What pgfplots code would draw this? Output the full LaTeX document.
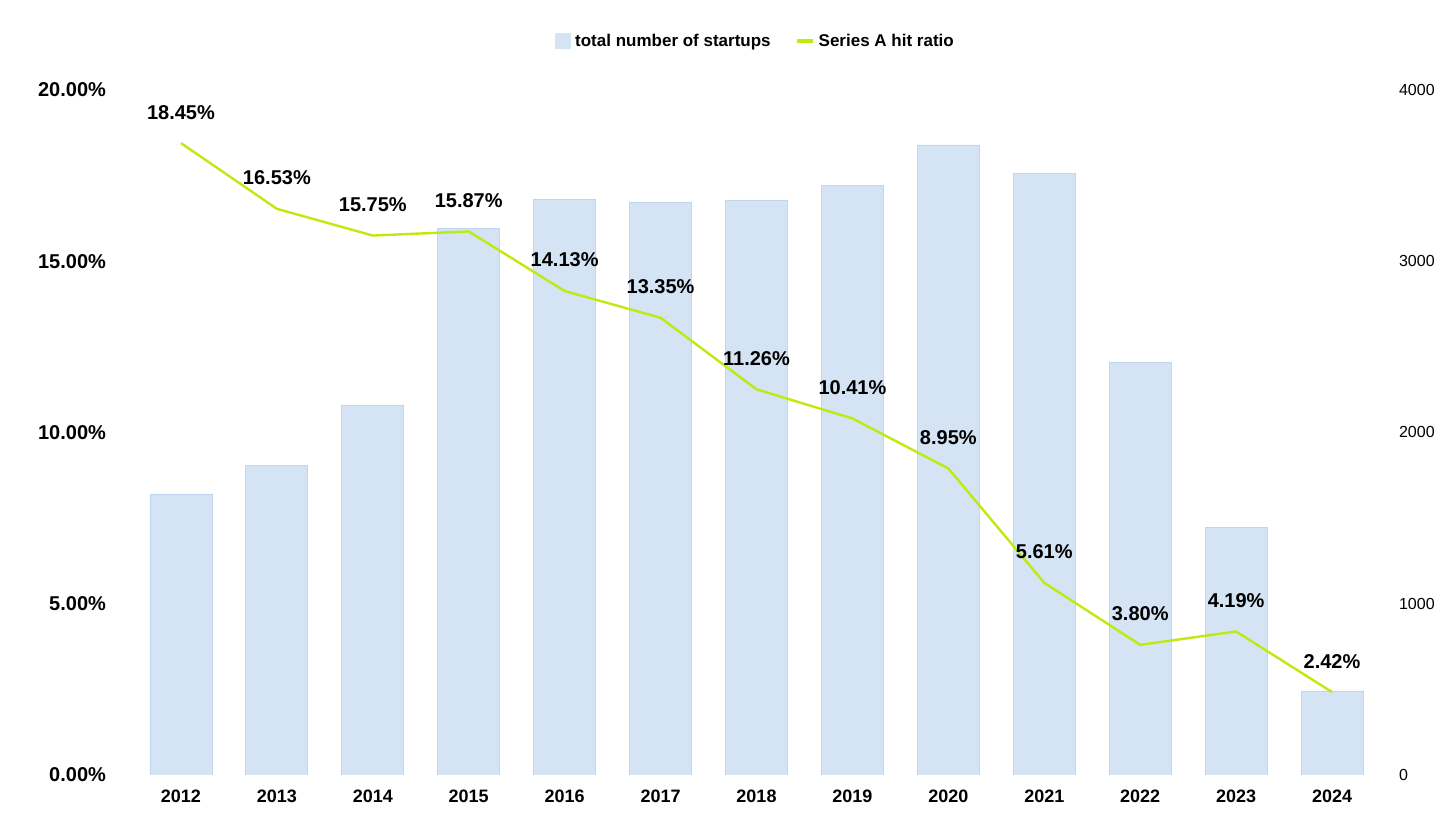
\documentclass[border=0pt]{standalone}
\usepackage{fontspec}
\setmainfont{Liberation Sans}
\usepackage{pgfplots}
\pgfplotsset{compat=1.18}
\definecolor{barc}{HTML}{D4E4F4}
\definecolor{bare}{HTML}{BFD7EE}
\definecolor{linec}{HTML}{BFEA10}
\begin{document}
\begin{tikzpicture}
\begin{axis}[name=ax1, scale only axis, width=623.5pt, height=342.5pt,
  xmin=-0.5, xmax=12.5, ymin=0, ymax=4000,
  axis y line*=right, axis x line=none,
  ytick={0,1000,2000,3000,4000}, yticklabel style={font=\fontsize{8}{9}\selectfont, xshift=6pt},
  /pgf/number format/assume math mode=true, /pgf/number format/1000 sep={},
  major tick length=0pt, axis line style={draw=none}]
\addplot[ybar, bar width=31pt, fill=barc, draw=bare] coordinates {
(0,1641)(1,1805)(2,2161)(3,3194)(4,3364)(5,3346)(6,3358)(7,3445)(8,3679)(9,3515)(10,2412)(11,1448)(12,491)};
\end{axis}
\begin{axis}[scale only axis, width=623.5pt, height=342.5pt,
  xmin=-0.5, xmax=12.5, ymin=0, ymax=20,
  axis y line*=left, axis x line*=bottom, axis line style={draw=none},
  major tick length=0pt,
  xtick={0,...,12}, xticklabels={2012,2013,2014,2015,2016,2017,2018,2019,2020,2021,2022,2023,2024},
  xticklabel style={font=\bfseries\fontsize{9}{10}\selectfont, yshift=-4pt},
  ytick={0,5,10,15,20},
  yticklabel={\pgfmathprintnumber[fixed,precision=2,fixed zerofill]{\tick}\%},
  yticklabel style={font=\bfseries\fontsize{10}{12}\selectfont, xshift=-10pt},
  /pgf/number format/assume math mode=true,
  legend style={at={(0.5,1.0)}, yshift=16pt, anchor=south, draw=none, legend columns=2,
    font=\bfseries\fontsize{8.5}{10}\selectfont, /tikz/every even column/.append style={column sep=10pt}},
  legend image code/.code={}]
\addlegendimage{area legend, fill=barc, draw=none, legend image code/.code={\fill[barc] (0pt,-3.5pt) rectangle (8pt,4.5pt);}}
\addlegendentry{total number of startups}
\addlegendimage{legend image code/.code={\draw[linec, line width=2pt] (0pt,0.5pt) -- (8pt,0.5pt);}}
\addlegendentry{Series A hit ratio}
\addplot[linec, line width=1.2pt, mark=none,
  nodes near coords={\pgfmathprintnumber[fixed,precision=2,fixed zerofill]{\pgfplotspointmeta}\%},
  every node near coord/.append style={font=\bfseries\fontsize{10}{12}\selectfont, black, anchor=south, yshift=8pt}]
 coordinates {(0,18.45)(1,16.53)(2,15.75)(3,15.87)(4,14.13)(5,13.35)(6,11.26)(7,10.41)(8,8.95)(9,5.61)(10,3.80)(11,4.19)(12,2.42)};
\end{axis}
\useasboundingbox ([shift={(-66.5pt,-31.5pt)}]ax1.south west) rectangle ([shift={(38pt,45pt)}]ax1.north east);
\end{tikzpicture}
\end{document}
